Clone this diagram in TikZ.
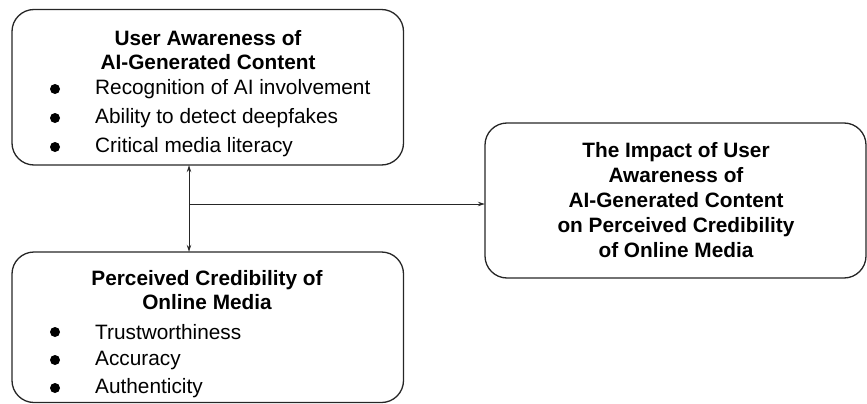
\documentclass[tikz,border=0pt]{standalone}
\usepackage{fontspec}
\setmainfont{Liberation Sans}
\usetikzlibrary{arrows.meta}
\begin{document}
\begin{tikzpicture}[x=1pt,y=-1pt,
  box/.style={draw=black!85,line width=1.3pt,rounded corners=22pt,minimum width=#1,inner sep=0pt},
  ttl/.style={font=\fontsize{20.8}{24}\selectfont\bfseries,align=center},
  itm/.style={font=\fontsize{20.8}{24}\selectfont,anchor=west,inner sep=0pt},
  bul/.style={fill=black,circle,inner sep=0pt,minimum size=10pt},
  arr/.style={draw=black!85,line width=0.9pt,-{Stealth[length=7pt,width=4.5pt]}}]
\useasboundingbox (0,0) rectangle (867,404);
% boxes
\draw[box=0pt] (12,9.5) rectangle (403.5,165);
\node[minimum width=391.5pt,minimum height=155.5pt,inner sep=0pt] (top) at (207.75,87.25) {};
\draw[box=0pt] (12,252) rectangle (403.5,402.5);
\node[minimum width=391.5pt,minimum height=150.5pt,inner sep=0pt] (bot) at (207.75,327.25) {};
\draw[box=0pt] (485,123) rectangle (866,278);
\node[minimum width=381pt,minimum height=155pt,inner sep=0pt] (imp) at (675.5,200.5) {};
% top box text
\node[ttl] (t1) at (208,50) {User Awareness of\\AI-Generated Content};
\node[bul] (b11) at (55,89) {};
\node[itm] (i11) at (95,89) {Recognition of AI involvement};
\node[bul] (b12) at (55,118) {};
\node[itm] (i12) at (95,118) {Ability to detect deepfakes};
\node[bul] (b13) at (55,147) {};
\node[itm] (i13) at (95,147) {Critical media literacy};
% bottom box text
\node[ttl] (t2) at (207,290.5) {Perceived Credibility of\\Online Media};
\node[bul] (b21) at (55,332) {};
\node[itm] (i21) at (95,332) {Trustworthiness};
\node[bul] (b22) at (55,360) {};
\node[itm] (i22) at (95,360) {Accuracy};
\node[bul] (b23) at (55,388) {};
\node[itm] (i23) at (95,388) {Authenticity};
% impact box text
\node[ttl,font=\fontsize{20.8}{25}\selectfont\bfseries] (t3) at (676,200) {The Impact of User\\Awareness of\\AI-Generated Content\\on Perceived Credibility\\of Online Media};
% connectors
\coordinate (j) at (189,204);
\draw[arr] (j) -- (j |- top.south);
\draw[arr] (j) -- (j |- bot.north);
\draw[arr] (j) -- (j -| imp.west);
\end{tikzpicture}
\end{document}
